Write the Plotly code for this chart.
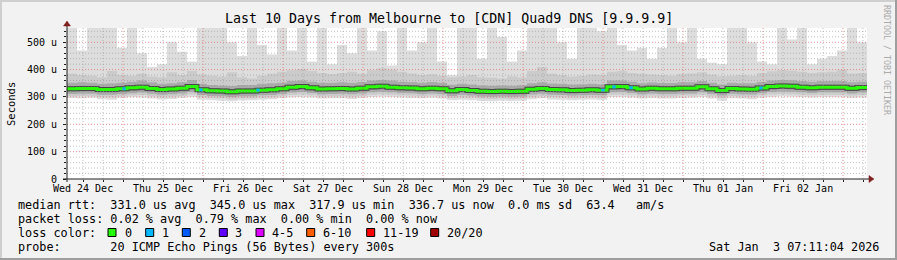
import plotly.graph_objects as go
import pandas as pd

# ---------------- data (values in microseconds) ----------------
start = "2025-12-24 07:11:04"
end = "2026-01-03 07:11:04"
bin_hours = 3

median = [330,331,331,327,327,330,334,336,331,327,329,332,338,
          326,323,322,319,322,322,325,326,330,336,338,334,329,330,
          331,329,332,337,339,336,334,333,330,332,330,323,327,
          324,321,320,321,320,321,328,331,327,326,324,325,326,325,
          337,338,334,329,332,330,330,332,332,337,330,324,331,
          329,328,333,338,340,339,336,334,336,336,336,332,335]

smoke_max = [560,470,560,560,560,480,560,460,410,420,500,465,430,
             560,560,560,500,450,560,490,455,560,470,560,430,560,420,
             490,460,560,470,540,415,560,470,500,560,430,380,560,
             560,440,560,520,430,470,560,560,560,500,440,560,560,540,
             560,490,470,480,440,480,560,500,560,440,425,420,560,
             560,500,430,420,560,510,560,420,440,450,470,560,500]

smoke_hi2 = [385,380,378,372,395,380,378,385,375,372,390,380,395,
             382,378,375,390,372,368,378,385,392,398,402,395,388,384,
             388,392,385,398,405,400,392,386,380,383,378,372,375,
             380,372,370,368,376,372,395,410,385,380,375,378,382,380,
             392,395,388,385,382,380,378,384,386,390,382,376,378,
             380,378,388,394,398,396,392,388,390,392,400,386,388]

smoke_hi3 = [352,354,352,348,350,352,356,360,354,348,350,354,362,
             348,344,342,340,344,344,348,350,352,358,360,356,352,352,
             354,352,355,360,362,360,356,355,352,355,352,345,348,
             346,342,341,342,341,343,350,354,349,348,346,347,348,347,
             360,360,356,350,353,351,351,354,354,358,352,346,352,
             350,350,355,360,362,361,358,356,358,358,358,354,356]

smoke_hi4 = [339,340,340,336,336,339,343,345,340,336,338,341,347,
             335,332,331,328,331,331,334,335,339,345,347,343,338,339,
             340,338,341,346,348,345,343,342,339,341,339,332,336,
             333,330,329,330,329,330,337,340,336,335,333,334,335,334,
             346,347,343,338,341,339,339,341,341,346,339,333,340,
             338,337,342,347,349,348,345,343,345,345,345,341,344]

smoke_lo4 = [320,321,321,317,317,320,323,325,321,317,319,322,327,
             316,313,312,309,312,312,315,316,320,325,327,324,319,320,
             321,319,322,326,328,326,324,323,320,322,320,313,317,
             314,311,310,311,310,311,318,321,317,316,314,315,316,315,
             326,327,324,319,322,320,320,322,322,326,320,314,321,
             319,318,323,327,329,328,326,324,326,326,326,322,325]

smoke_lo3 = [311,312,312,308,308,311,314,316,312,308,310,313,318,
             307,304,303,300,303,303,306,307,311,316,318,315,310,311,
             312,310,313,317,319,317,315,314,311,313,311,304,308,
             305,302,301,302,301,302,309,312,308,307,305,306,307,306,
             317,318,315,310,313,311,311,313,313,317,311,305,312,
             310,309,314,318,320,319,317,315,317,317,317,313,316]

smoke_lo2 = [303,304,303,300,299,303,306,307,303,299,301,304,309,
             299,296,295,292,295,295,298,299,303,307,309,306,302,303,
             303,301,304,308,310,308,306,305,303,305,303,296,299,
             297,294,293,294,293,294,300,303,300,299,297,298,299,298,
             308,309,306,302,305,303,303,305,305,308,303,297,304,
             302,301,305,309,311,310,308,306,308,308,308,305,307]

smoke_min = [296,295,297,292,290,296,299,298,294,291,293,297,300,
             290,288,286,284,287,288,290,292,295,299,300,298,294,295,
             295,293,296,300,301,300,298,296,295,297,294,288,290,
             288,285,284,286,285,286,292,295,291,290,288,290,291,289,
             300,300,297,294,296,294,294,296,297,300,294,286,295,
             294,292,297,300,302,301,300,298,300,300,299,296,298]

loss_event_times = ["2025-12-25 00:17", "2025-12-25 23:23", "2025-12-26 16:29",
                    "2025-12-30 23:59", "2025-12-31 03:17", "2025-12-31 08:23",
                    "2026-01-01 23:23"]

day_dates = ["2025-12-24", "2025-12-25", "2025-12-26", "2025-12-27", "2025-12-28",
             "2025-12-29", "2025-12-30", "2025-12-31", "2026-01-01", "2026-01-02"]
day_labels = ["Wed 24 Dec", "Thu 25 Dec", "Fri 26 Dec", "Sat 27 Dec", "Sun 28 Dec",
              "Mon 29 Dec", "Tue 30 Dec", "Wed 31 Dec", "Thu 01 Jan", "Fri 02 Jan"]

y_ticks = [0, 100, 200, 300, 400, 500]
y_labels = ["0", "100 u", "200 u", "300 u", "400 u", "500 u"]

loss_labels = ["0", "1", "2", "3", "4-5", "6-10", "11-19", "20/20"]
loss_colors = ["#26ff00", "#00b8ff", "#0059ff", "#5e00ff", "#dd00ff", "#ff5e00", "#ff0000", "#a10000"]

stat_lines = [
    "median rtt:  331.0 us avg  345.0 us max  317.9 us min  336.7 us now  0.0 ms sd  63.4   am/s",
    "packet loss: 0.02 % avg  0.79 % max  0.00 % min  0.00 % now",
    "loss color:",
    "probe:       20 ICMP Echo Pings (56 Bytes) every 300s",
]
timestamp_text = "Sat Jan  3 07:11:04 2026"
title_text = "Last 10 Days from Melbourne to [CDN] Quad9 DNS [9.9.9.9]"

# ---------------- layout geometry ----------------
W, H = 897, 260
L, R, T, B = 67, 30, 28, 81
PW, PH = W - L - R, H - T - B
YMAX = 552.3
MONO = "DejaVu Sans Mono"


def px(x):
    return (x - L) / PW


def py(y):
    return (H - B - y) / PH


def nb(s):
    return s.replace(" ", "\u00a0")


t = pd.date_range(start, periods=len(median) + 1, freq=f"{bin_hours}h")
t0 = pd.Timestamp(start)

fig = go.Figure()


def ext(a):
    return list(a) + [a[-1]]


bands = [
    (smoke_min, smoke_max, "#dddddd"),
    (smoke_lo2, smoke_hi2, "#cbcbcb"),
    (smoke_lo3, smoke_hi3, "#aaaaaa"),
    (smoke_lo4, smoke_hi4, "#7c7c7c"),
]
for lo, hi, col in bands:
    fig.add_trace(go.Scatter(x=t, y=ext(lo), mode="lines", line=dict(width=0, shape="hv"),
                             hoverinfo="skip", showlegend=False))
    fig.add_trace(go.Scatter(x=t, y=ext(hi), mode="lines", line=dict(width=0, shape="hv"),
                             fill="tonexty", fillcolor=col, hoverinfo="skip", showlegend=False))

# dark core and median line
fig.add_trace(go.Scatter(x=t, y=ext(median), mode="lines",
                         line=dict(color="#474747", width=5, shape="hv"),
                         hoverinfo="skip", showlegend=False))
fig.add_trace(go.Scatter(x=t, y=ext(median), mode="lines",
                         line=dict(color=loss_colors[0], width=3, shape="hv"),
                         showlegend=False))

# loss (1/20) segments on the median
lx, ly = [], []
for ts in loss_event_times:
    te = pd.Timestamp(ts)
    idx = int((te - t0) / pd.Timedelta(hours=bin_hours))
    lx += [te - pd.Timedelta(minutes=30), te + pd.Timedelta(minutes=30), None]
    ly += [median[idx], median[idx], None]
fig.add_trace(go.Scatter(x=lx, y=ly, mode="lines", line=dict(color=loss_colors[1], width=3),
                         showlegend=False, hoverinfo="skip"))

shapes = []
GRID = "rgba(143,143,143,0.55)"
MGRID = "rgba(222,79,79,0.6)"
# vertical grid lines (every 6 h, red at midnight)
g = pd.Timestamp(day_dates[0])
tend = pd.Timestamp(end)
while g <= tend:
    if g > t0:
        major = (g.hour == 0)
        shapes.append(dict(type="line", xref="x", yref="paper", x0=g, x1=g, y0=0, y1=1,
                           line=dict(color=MGRID if major else GRID, width=1, dash="1px,2px"),
                           layer="above"))
    g += pd.Timedelta(hours=6)
# horizontal grid lines
for v in range(20, int(YMAX) + 1, 20):
    major = v % 100 == 0
    shapes.append(dict(type="line", xref="paper", yref="y", x0=0, x1=1, y0=v, y1=v,
                       line=dict(color=MGRID if major else GRID, width=1, dash="1px,2px"),
                       layer="above"))

AX = "#1f1f1f"
ARROW = "#801f1f"
# axes with arrows
shapes.append(dict(type="line", xref="paper", yref="paper", x0=px(63), x1=px(870),
                   y0=py(179), y1=py(179), line=dict(color=AX, width=1), layer="above"))
shapes.append(dict(type="line", xref="paper", yref="paper", x0=px(67), x1=px(67),
                   y0=py(182), y1=py(24), line=dict(color=AX, width=1), layer="above"))
shapes.append(dict(type="path", xref="paper", yref="paper",
                   path=f"M {px(874)} {py(179)} L {px(869)} {py(175.5)} L {px(869)} {py(182.5)} Z",
                   fillcolor=ARROW, line=dict(color=ARROW, width=0.5), layer="above"))
shapes.append(dict(type="path", xref="paper", yref="paper",
                   path=f"M {px(67)} {py(21)} L {px(63.5)} {py(26)} L {px(70.5)} {py(26)} Z",
                   fillcolor=ARROW, line=dict(color=ARROW, width=0.5), layer="above"))

# image border (3D shade)
shapes.append(dict(type="line", xref="paper", yref="paper", x0=px(0), x1=px(W),
                   y0=py(1), y1=py(1), line=dict(color="#cfcfcf", width=2)))
shapes.append(dict(type="line", xref="paper", yref="paper", x0=px(1), x1=px(1),
                   y0=py(0), y1=py(H), line=dict(color="#cfcfcf", width=2)))
shapes.append(dict(type="line", xref="paper", yref="paper", x0=px(0), x1=px(W),
                   y0=py(H - 1), y1=py(H - 1), line=dict(color="#9e9e9e", width=2)))
shapes.append(dict(type="line", xref="paper", yref="paper", x0=px(W - 1), x1=px(W - 1),
                   y0=py(0), y1=py(H), line=dict(color="#9e9e9e", width=2)))

annotations = []
# title
annotations.append(dict(text=nb(title_text), xref="paper", yref="paper", x=px(448.5), y=py(19),
                        xanchor="center", yanchor="middle", showarrow=False,
                        font=dict(family=MONO, size=13.3, color="#000")))
# y title
annotations.append(dict(text="Seconds", xref="paper", yref="paper", x=px(10.5), y=py(104.5),
                        xanchor="center", yanchor="middle", showarrow=False, textangle=-90,
                        font=dict(family=MONO, size=10.5, color="#000")))
# watermark
annotations.append(dict(text=nb("RRDTOOL / TOBI OETIKER"), xref="paper", yref="paper",
                        x=px(887), y=py(60), xanchor="center", yanchor="middle",
                        showarrow=False, textangle=90,
                        font=dict(family=MONO, size=8.3, color="#aaaaaa")))
# stats lines
line_y = [204.5, 218.5, 232.5, 246.5]
for s, yy in zip(stat_lines, line_y):
    annotations.append(dict(text=nb(s), xref="paper", yref="paper", x=px(16), y=py(yy),
                            xanchor="left", yanchor="middle", showarrow=False,
                            font=dict(family=MONO, size=11.8, color="#000")))
annotations.append(dict(text=nb(timestamp_text), xref="paper", yref="paper", x=px(881), y=py(246.5),
                        xanchor="right", yanchor="middle", showarrow=False,
                        font=dict(family=MONO, size=11.8, color="#000")))
# loss colour legend
sq_x = [108, 145.7, 182.3, 219.3, 256, 306.7, 366.7, 430.7]
lab_x = [123, 160, 196.7, 233.3, 270, 320.7, 380.7, 445]
for lab, col, sx, lx_ in zip(loss_labels, loss_colors, sq_x, lab_x):
    shapes.append(dict(type="rect", xref="paper", yref="paper", x0=px(sx), x1=px(sx + 8),
                       y0=py(228.5), y1=py(236.5), fillcolor=col,
                       line=dict(color="#000", width=1)))
    annotations.append(dict(text=nb(lab), xref="paper", yref="paper", x=px(lx_), y=py(232.5),
                            xanchor="left", yanchor="middle", showarrow=False,
                            font=dict(family=MONO, size=11.8, color="#000")))

noon = [pd.Timestamp(d) + pd.Timedelta(hours=12) for d in day_dates]

fig.update_layout(
    width=W, height=H, autosize=False,
    margin=dict(l=L, r=R, t=T, b=B, pad=0),
    paper_bgcolor="#f2f2f2", plot_bgcolor="#ffffff",
    showlegend=False,
    shapes=shapes, annotations=annotations,
    xaxis=dict(type="date", range=[start, end], tickmode="array", tickvals=noon,
               ticktext=day_labels, ticks="", showgrid=False, zeroline=False, showline=False,
               tickfont=dict(family=MONO, size=10, color="#000"), ticklabelstandoff=2,
               minor=dict(ticks="outside", ticklen=2, tickcolor=AX, dtick=6 * 3600 * 1000,
                          tick0="2025-12-24 00:00", showgrid=False)),
    yaxis=dict(range=[0, YMAX], tickmode="array", tickvals=y_ticks, ticktext=y_labels,
               ticks="outside", ticklen=3, tickcolor=AX, showgrid=False, zeroline=False,
               showline=False, tickfont=dict(family=MONO, size=10, color="#000"),
               ticklabelstandoff=4,
               minor=dict(ticks="outside", ticklen=2, tickcolor=AX, dtick=20, tick0=0,
                          showgrid=False)),
)

fig.write_html("out.html")
